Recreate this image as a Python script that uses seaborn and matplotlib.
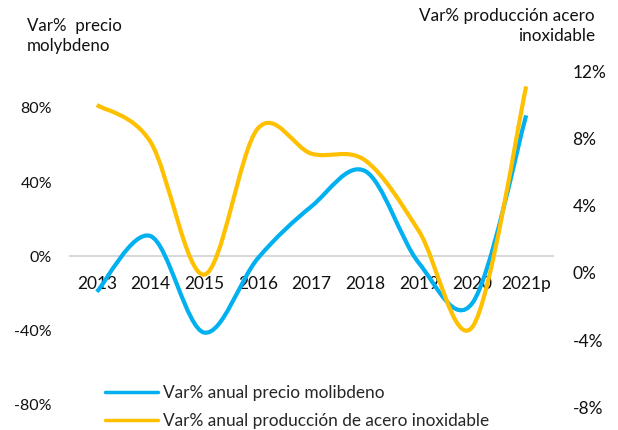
import numpy as np
import seaborn as sns
import matplotlib.pyplot as plt
from matplotlib.path import Path
from matplotlib.patches import PathPatch
from matplotlib.lines import Line2D

years = ["2013", "2014", "2015", "2016", "2017", "2018", "2019", "2020", "2021p"]
moly_price = [-19, 11, -41, -1, 27, 46, -3.5, -25, 76]        # left axis, %
steel_prod = [10.0, 7.8, -0.1, 8.6, 7.1, 6.7, 2.5, -3.2, 11.1]   # right axis, %
left_ticks = [-80, -40, 0, 40, 80]
right_ticks = [-8, -4, 0, 4, 8, 12]

BLUE = "#00B0F0"
GOLD = "#FFC000"


def smooth_path(xs, ys):
    # Excel-like smoothed line: cubic bezier segments through every point
    pts = np.column_stack([xs, ys]).astype(float)
    padded = np.vstack([pts[0], pts, pts[-1]])
    verts = [pts[0]]
    codes = [Path.MOVETO]
    for i in range(len(pts) - 1):
        p0, p1, p2, p3 = padded[i], padded[i + 1], padded[i + 2], padded[i + 3]
        verts += [p1 + (p2 - p0) / 6, p2 - (p3 - p1) / 6, p2]
        codes += [Path.CURVE4] * 3
    return Path(verts, codes)


sns.set_style("white")
plt.rcParams["font.family"] = ["Lato", "DejaVu Sans"]

fig = plt.figure(figsize=(6.18, 4.30), dpi=100)
ax = fig.add_axes([70 / 618, 10 / 430, 483 / 618, 390 / 430])
ax2 = ax.twinx()

x = np.arange(len(years))
ax.set_xlim(-0.5, len(years) - 0.5)
ax.set_ylim(-88.1, 122.0)
ax2.set_ylim(-8.75, 14.46)

ax.add_patch(PathPatch(smooth_path(x, moly_price), facecolor="none",
                       edgecolor=BLUE, lw=3, capstyle="butt", zorder=3))
ax2.add_patch(PathPatch(smooth_path(x, steel_prod), facecolor="none",
                        edgecolor=GOLD, lw=3, capstyle="butt", zorder=3))

for a in (ax, ax2):
    for s in a.spines.values():
        s.set_visible(False)
ax.spines["bottom"].set_visible(True)
ax.spines["bottom"].set_position(("data", 0))
ax.spines["bottom"].set_color("#d9d9d9")
ax.spines["bottom"].set_linewidth(1.5)

ax.set_xticks(x, years)
ax.tick_params(axis="x", length=0, pad=14, labelsize=12.5, colors="#111111")
ax.set_yticks(left_ticks, [f"{v}%" for v in left_ticks])
ax.tick_params(axis="y", length=0, pad=13, labelsize=11.5, colors="#111111")
ax2.set_yticks(right_ticks, [f"{v}%" for v in right_ticks])
ax2.tick_params(axis="y", length=0, pad=14, labelsize=12.5, colors="#111111")
ax.grid(False)
ax2.grid(False)

fig.text(27 / 618, 1 - 18 / 430, "Var%  precio\nmolybdeno", ha="left", va="top",
         fontsize=12.2, linespacing=1.3, color="#111111")
fig.text(595 / 618, 1 - 8 / 430, "Var% producción acero\ninoxidable", ha="right",
         va="top", fontsize=12.3, linespacing=1.3, color="#111111", multialignment="right")

handles = [Line2D([], [], color=BLUE, lw=2.5),
           Line2D([], [], color=GOLD, lw=2.5)]
labels = ["Var% anual precio molibdeno", "Var% anual producción de acero inoxidable"]
fig.legend(handles, labels, loc="upper left", bbox_to_anchor=(105 / 618, 1 - 385 / 430),
           frameon=False, fontsize=12.4, handlelength=3.1, handletextpad=0.25,
           labelspacing=0.68, borderpad=0, borderaxespad=0)

fig.savefig("out.png", dpi=100)
